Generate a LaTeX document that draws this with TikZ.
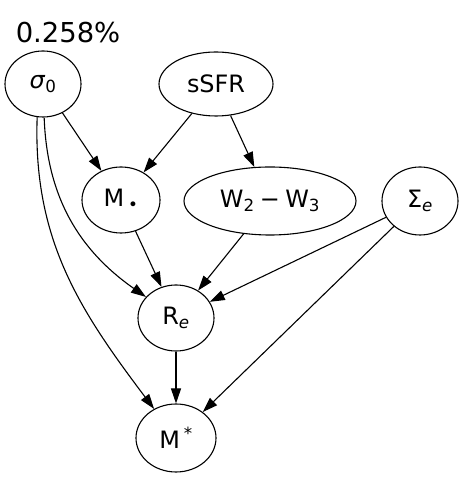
\documentclass[tikz,border=0pt]{standalone}
\usepackage{fontspec}
\setmainfont{DejaVu Sans}
\usetikzlibrary{positioning, shapes.geometric, arrows.meta}

\tikzset{
    var/.style={ellipse, draw, line width=1.1bp, inner sep=0pt, font=\fontsize{24}{28}\selectfont},
    link/.style={-{Triangle[length=15bp, width=10bp]}, line width=1.1bp}
}

\begin{document}
\begin{tikzpicture}[x=1bp, y=1bp]
    \useasboundingbox (0,0) rectangle (463,479);

    % title
    \node[font=\fontsize{27.5}{30}\selectfont] (title) at (68,446) {0.258\%};

    % top row
    \node[var, minimum width=76bp, minimum height=66bp] (sigma) at (43,395) {\textit{σ}\textsubscript{0}};
    \node[var, minimum width=114bp, minimum height=64bp] (ssfr) at (216,395) {sSFR};

    % middle row
    \node[var, minimum width=78bp, minimum height=66bp] (mbh) at (121,279) {M\,\textsubscript{\textbullet}};
    \node[var, minimum width=172bp, minimum height=68bp] (wcol) at (270,278) {W\textsubscript{2}\hspace{0.22em}−\hspace{0.22em}W\textsubscript{3}};
    \node[var, minimum width=76bp, minimum height=68bp] (Sig) at (420,278) {Σ\textsubscript{\textit{e}}};

    % bottom
    \node[var, minimum width=76bp, minimum height=66bp] (re) at (176,161) {R\textsubscript{\textit{e}}};
    \node[var, minimum width=80bp, minimum height=68bp] (mstar) at (176,41) {M\,\textsuperscript{*}};

    % arrows
    \draw[link] (sigma) -- (mbh);
    \draw[link] (ssfr) -- (mbh);
    \draw[link] (ssfr) -- (wcol);
    \draw[link] (sigma.-88) to[out=-88, in=145] (re);
    \draw[link] (sigma.-100) to[out=-92, in=127] (mstar);
    \draw[link] (mbh) -- (re);
    \draw[link] (wcol) -- (re);
    \draw[link] (Sig) -- (re);
    \draw[link] (Sig) -- (mstar);
    \draw[link] (re) -- (mstar);
\end{tikzpicture}
\end{document}
